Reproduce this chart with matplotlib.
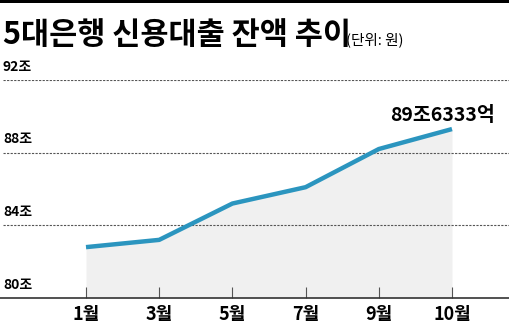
import numpy as np
import matplotlib.pyplot as plt

plt.rcParams['font.family'] = ['Noto Sans CJK KR', 'DejaVu Sans']

months = ['1월', '3월', '5월', '7월', '9월', '10월']
balance = [82.8, 83.2, 85.2, 86.1, 88.2, 89.3]   # 조 원
yticks = [80, 84, 88, 92]
last_label = '89조6333억'

W, H = 510, 325
fig = plt.figure(figsize=(W / 100, H / 100), dpi=100)

# black bar on top
fig.add_artist(plt.Rectangle((0, 1 - 3 / H), 1, 3 / H, transform=fig.transFigure,
                             color='black', lw=0))

fig.text(3 / W, 1 - 44 / H, '5대은행 신용대출 잔액 추이', fontsize=22, fontweight='heavy',
         ha='left', va='baseline')
fig.text(346 / W, 1 - 44 / H, '(단위: 원)', fontsize=10.5, fontweight='medium',
         ha='left', va='baseline')

ax = fig.add_axes([0, (H - 298) / H, 1, (298 - 80) / H])
x = np.arange(len(months))
step = 73.2
ax.set_xlim(-86 / step, (W - 86) / step)
ax.set_ylim(80, 92)

ax.fill_between(x, balance, 80, color='#f0f0f0', lw=0, zorder=1)
ax.plot(x, balance, color='#2b95bf', lw=3.2, solid_capstyle='butt', zorder=3)

for v in yticks[1:]:
    ax.axhline(v, xmin=3 / W, color='#555555', lw=0.8, ls=(0, (2, 1.2)), zorder=2)
for v in yticks:
    ax.text(3 / W, v + 0.35, f'{v}조', transform=ax.get_yaxis_transform(),
            fontsize=10, fontweight='bold', ha='left', va='bottom')

ax.annotate(last_label, (x[-1], balance[-1]), xytext=(-62, 8), textcoords='offset pixels',
            fontsize=14, fontweight='bold', ha='left', va='baseline')

for s in ['top', 'right', 'left']:
    ax.spines[s].set_visible(False)
ax.spines['bottom'].set_color('#333333')
ax.spines['bottom'].set_linewidth(1.2)
ax.set_yticks([])
ax.set_xticks(x)
ax.set_xticklabels(months, fontsize=13, fontweight='bold')
ax.tick_params(axis='x', direction='in', length=8, width=0.8, color='#555555', pad=5)

fig.savefig('out.png', dpi=100)
